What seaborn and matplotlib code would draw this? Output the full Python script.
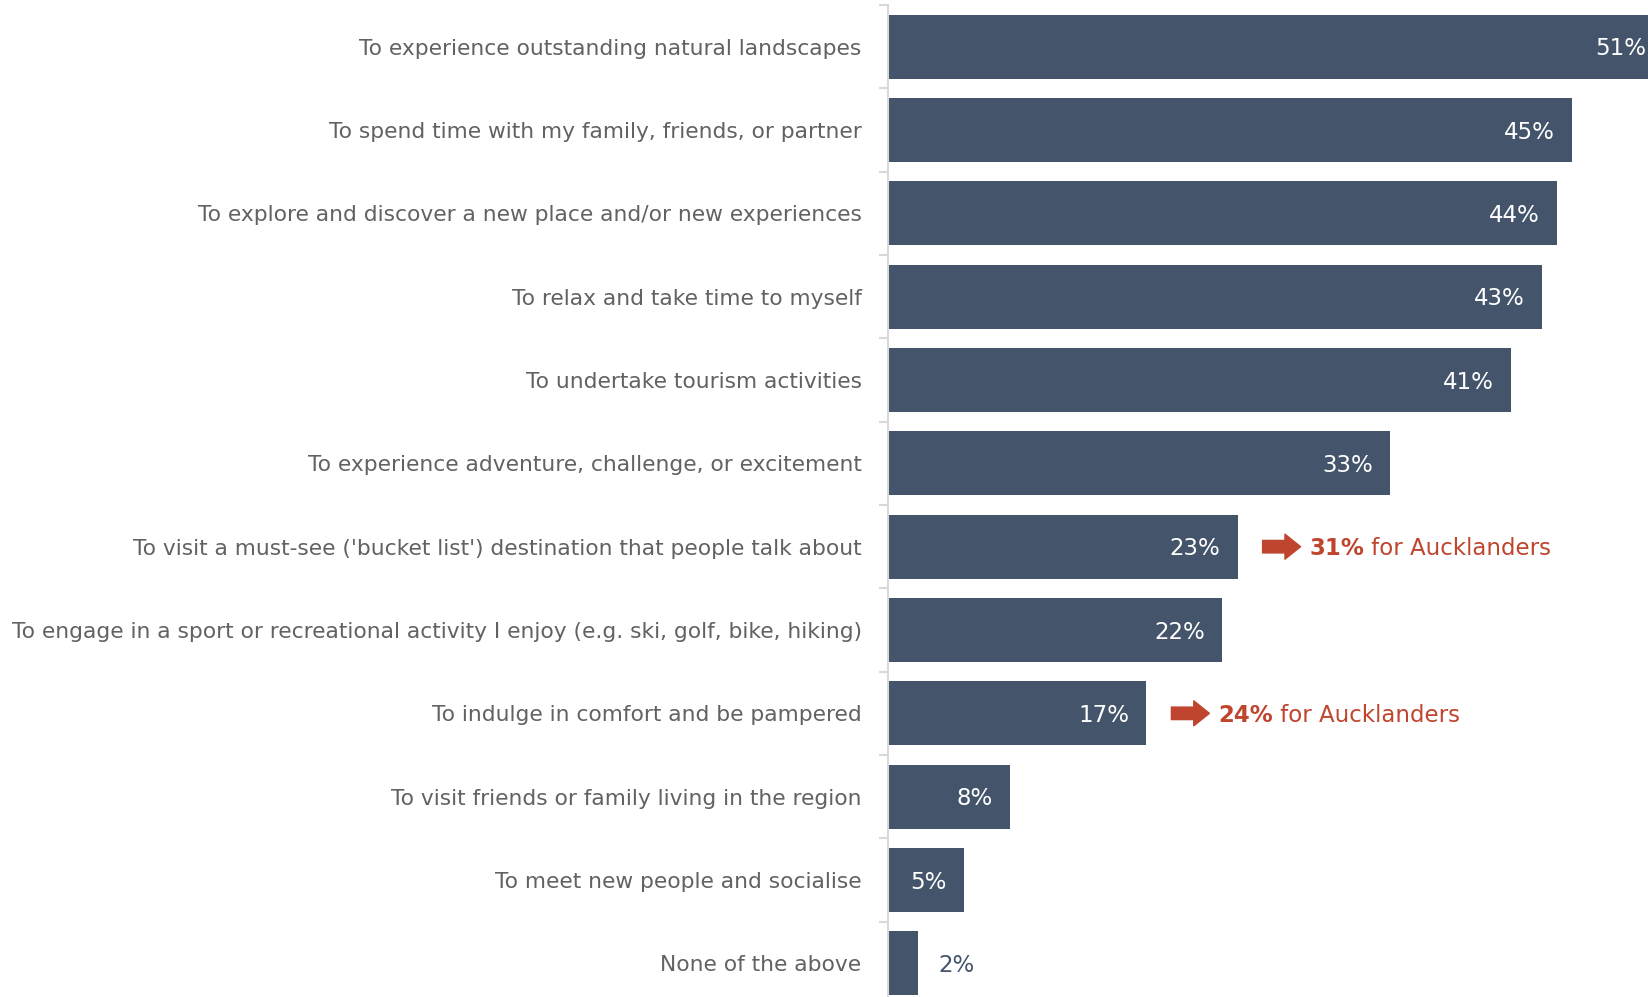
import matplotlib
matplotlib.use("Agg")
import matplotlib.pyplot as plt
import matplotlib.transforms as mtransforms
import seaborn as sns
import pandas as pd

# Reasons for visiting, share of respondents (%)
reasons = [
    "To experience outstanding natural landscapes",
    "To spend time with my family, friends, or partner",
    "To explore and discover a new place and/or new experiences",
    "To relax and take time to myself",
    "To undertake tourism activities",
    "To experience adventure, challenge, or excitement",
    "To visit a must-see ('bucket list') destination that people talk about",
    "To engage in a sport or recreational activity I enjoy (e.g. ski, golf, bike, hiking)",
    "To indulge in comfort and be pampered",
    "To visit friends or family living in the region",
    "To meet new people and socialise",
    "None of the above",
]
shares = [51, 45, 44, 43, 41, 33, 23, 22, 17, 8, 5, 2]

# Auckland sub-group call-outs: (reason index, Auckland share)
auckland_idx = [6, 8]
auckland_share = [31, 24]

BAR = "#44546A"
RED = "#C0452F"
GREY_TXT = "#626262"
SPINE = "#D9D9D9"
FONT = ["DejaVu Sans"]

sns.set_theme(style="white")
plt.rcParams["font.family"] = FONT

df = pd.DataFrame({"reason": reasons, "share": shares})

fig = plt.figure(figsize=(16.48, 9.97), dpi=100)
ax = fig.add_axes([888 / 1648, -8 / 997, 1 - 888 / 1648, 1 - 5 / 997 + 8 / 997])

sns.barplot(data=df, x="share", y="reason", orient="h", color=BAR,
            saturation=1, width=0.77, ax=ax, edgecolor="none")

ax.set_xlim(0, 50)
ax.set_ylim(len(reasons) - 0.5, -0.5)
ax.set_xlabel("")
ax.set_ylabel("")
ax.xaxis.set_visible(False)

for s in ["top", "right", "bottom"]:
    ax.spines[s].set_visible(False)
ax.spines["left"].set_color(SPINE)
ax.spines["left"].set_linewidth(1.5)

# Category labels at bar centres, short tick marks at category boundaries
ax.set_yticks(range(len(reasons)))
ax.set_yticklabels(reasons, fontsize=15.65, color=GREY_TXT)
ax.tick_params(axis="y", which="major", length=0, pad=19)
ax.set_yticks([i - 0.5 for i in range(len(reasons) + 1)], minor=True)
ax.tick_params(axis="y", which="minor", length=6.5, width=1.5, color=SPINE, left=True)

# Value labels: white inside the bar, dark outside for the tiny bar
for i, v in enumerate(shares):
    if v >= 5:
        off = mtransforms.offset_copy(ax.transData, fig=fig, x=-17, y=-2, units="dots")
        ax.text(v, i, f"{v}%", transform=off, ha="right", va="center",
                color="white", fontsize=16.5, clip_on=False)
    else:
        off = mtransforms.offset_copy(ax.transData, fig=fig, x=20, y=-2, units="dots")
        ax.text(v, i, f"{v}%", transform=off, ha="left", va="center",
                color=BAR, fontsize=16.5)

# Auckland call-outs: block arrow followed by the sub-group figure
for idx, a in zip(auckland_idx, auckland_share):
    v = shares[idx]
    start = mtransforms.offset_copy(ax.transData, fig=fig, x=25, y=0, units="dots")
    end = mtransforms.offset_copy(ax.transData, fig=fig, x=63, y=0, units="dots")
    ax.annotate("", xy=(v, idx), xycoords=end, xytext=(v, idx), textcoords=start,
                arrowprops=dict(arrowstyle="simple,head_length=0.75,head_width=1.2,tail_width=0.6",
                                color=RED, shrinkA=0, shrinkB=0, mutation_scale=15))
    txt = mtransforms.offset_copy(ax.transData, fig=fig, x=72, y=-2, units="dots")
    t1 = ax.text(v, idx, f"{a}%", transform=txt, ha="left", va="center",
                 color=RED, fontsize=16.5, fontweight="bold")
    ax.annotate(" for Aucklanders", xy=(1, 0), xycoords=t1, ha="left", va="bottom",
                color=RED, fontsize=16.5)

fig.savefig("out.png", dpi=100, facecolor="white")
